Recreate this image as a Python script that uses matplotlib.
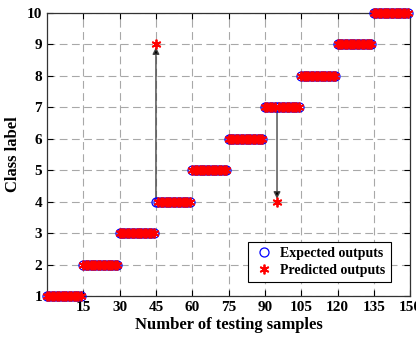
import numpy as np
import matplotlib
matplotlib.use('Agg')
from matplotlib import pyplot as plt

plt.rcParams['font.family'] = 'Liberation Serif'
plt.rcParams['font.weight'] = 'bold'

# data: 150 test samples, 15 per class
samples = np.arange(0, 150)
expected = samples // 15 + 1
predicted = expected.copy()
wrong_idx = [45, 95]
wrong_pred = [9, 4]
predicted[wrong_idx] = wrong_pred

xticks = [15, 30, 45, 60, 75, 90, 105, 120, 135, 150]
yticks = [1, 2, 3, 4, 5, 6, 7, 8, 9, 10]

fig = plt.figure(figsize=(4.16, 3.41), dpi=100)
ax = fig.add_axes([0.113, 0.132, 0.873, 0.830])

ax.plot(samples, expected, 'o', mfc='none', mec='blue', ms=6.5, mew=0.9,
        label='Expected outputs', clip_on=False, zorder=3)
ax.plot(samples, predicted, marker=(6, 2, 0), ls='none', color='red', ms=7, mew=1.3,
        label='Predicted outputs', clip_on=False, zorder=4)

# arrows from expected to wrong prediction
for i, p in zip(wrong_idx, wrong_pred):
    ax.annotate('', xy=(i, p), xytext=(i, expected[i]),
                arrowprops=dict(arrowstyle='-|>', color='#444444', lw=1.0,
                                mutation_scale=10, fc='black', shrinkA=0, shrinkB=2),
                zorder=2)

ax.set_xlim(0, 150)
ax.set_ylim(1, 10)
ax.set_xticks(xticks)
ax.set_yticks(yticks)
ax.grid(True, ls=(0, (7, 4)), color='#a8a8a8', lw=0.8)
ax.tick_params(direction='in', top=True, right=True, labelsize=11, length=4, width=0.8)
for s in ax.spines.values():
    s.set_linewidth(0.9)
    s.set_color('#333333')

ax.set_xlabel('Number of testing samples', fontsize=12, fontweight='bold', labelpad=2)
ax.set_ylabel('Class label', fontsize=12, fontweight='bold', labelpad=4)

leg = ax.legend(loc='lower right', fontsize=10, frameon=True, fancybox=False,
                edgecolor='black', framealpha=1, borderpad=0.35, handletextpad=0.4,
                handlelength=1.6, labelspacing=0.3, bbox_to_anchor=(0.965, 0.025))
leg.get_frame().set_linewidth(0.8)

fig.savefig('out.png', dpi=100)
